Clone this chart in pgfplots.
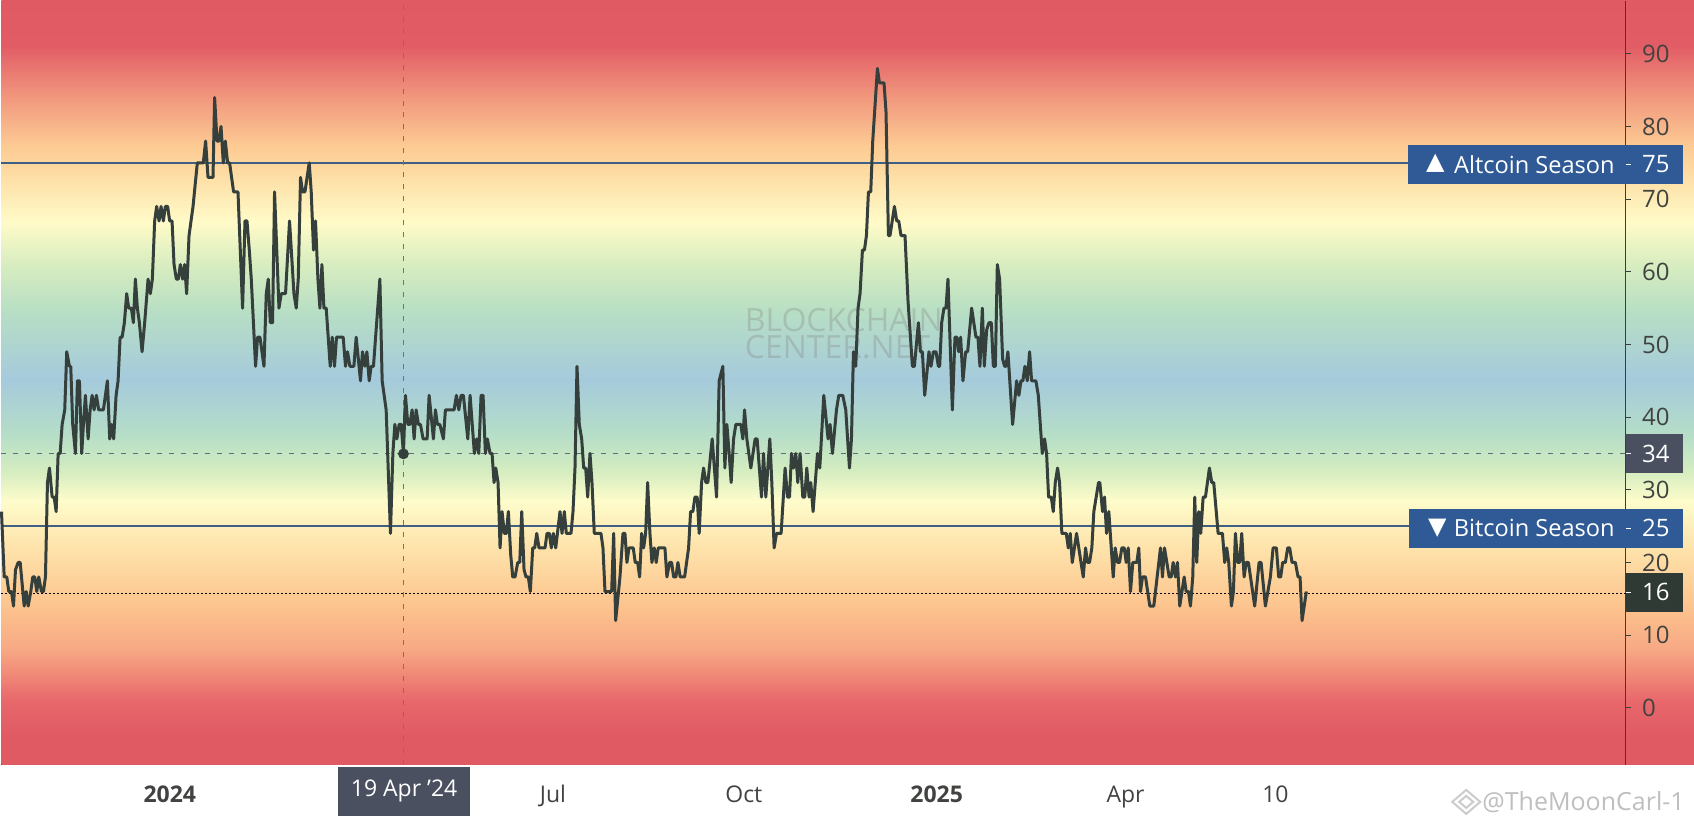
\documentclass[border=0pt]{standalone}
\usepackage{fontspec}
\usepackage{pgfplots}
\usepackage{pgfplotstable}
\pgfplotsset{compat=1.18}
\setmainfont{Open Sans}
\newfontfamily\symfont{DejaVu Sans}
\definecolor{c0}{HTML}{E05A64}
\definecolor{c1}{HTML}{E25C65}
\definecolor{c2}{HTML}{F29B7F}
\definecolor{c3}{HTML}{FDCB94}
\definecolor{c4}{HTML}{FDD79E}
\definecolor{c5}{HTML}{FFFBC8}
\definecolor{c6}{HTML}{D8EDC0}
\definecolor{c7}{HTML}{B8DFC4}
\definecolor{c8}{HTML}{A5CADC}
\definecolor{c9}{HTML}{B5DDC8}
\definecolor{c10}{HTML}{D5EDC0}
\definecolor{c11}{HTML}{FEFCCB}
\definecolor{c12}{HTML}{FEE3AB}
\definecolor{c13}{HTML}{FDC48E}
\definecolor{c14}{HTML}{F7A884}
\definecolor{c15}{HTML}{E8686B}
\definecolor{linec}{HTML}{353F3B}
\definecolor{bluel}{HTML}{3F6085}
\definecolor{boxb}{HTML}{2F5A96}
\definecolor{boxg}{HTML}{4A5060}
\definecolor{boxd}{HTML}{2F3A35}
\definecolor{txt}{HTML}{40433F}
\pgfdeclareverticalshading{rainbowbg}{100bp}{
 color(0bp)=(c0); color(25bp)=(c0); color(26.96bp)=(c0); color(29.25bp)=(c15);
 color(32.52bp)=(c14); color(35.46bp)=(c13); color(39.25bp)=(c12); color(42.26bp)=(c11);
 color(44.22bp)=(c10); color(46.70bp)=(c9); color(50.23bp)=(c8); color(54.74bp)=(c7);
 color(57.75bp)=(c6); color(60.49bp)=(c5); color(64.22bp)=(c4); color(65.46bp)=(c3);
 color(68.46bp)=(c2); color(72.06bp)=(c1); color(75bp)=(c0); color(100bp)=(c0)}
\pgfplotstableread{
x v
0 27
2.7 18
5.3 18
7.3 16
10 16
12 14
14 19
16.7 20
18.7 20
20.7 17
22.7 14
24.7 16
26.7 14
29.3 16
31.3 18
33.3 18
35.3 16
37.3 18
40 16
42 16
44 18
46 31
48 33
50.7 29
52.7 29
54.7 27
56.7 35
58.7 35
60.7 39
63.3 41
65.3 49
68 47
69.3 47
71.3 39
74 35
76 45
78 45
80.3 35
82 39
84 43
86.7 37
88.7 41
90.7 43
92.7 41
95 43
97.3 41
102 41
106 45
108.3 37
110.3 39
112.3 37
114.7 43
116.7 45
118.7 51
120.7 51
123 53
125.3 57
127.3 55
130 55
132 53
134 59
136 55
138 53
140.7 49
143.3 53
146.7 59
149 57
151 59
153.3 67
155.3 69
157.7 67
159.7 69
162 67
164 69
166.3 69
168.3 67
170.7 67
172.7 61
175 59
177 59
179 61
181.3 59
183.3 61
185.3 57
187.7 65
189.7 67
191.7 69
196 75
202 75
204.3 78
206.7 73
211.7 73
213.3 84
215.7 78
217.7 78
219.7 80
222 75
224 78
226.3 75
228.3 75
232.3 71
236.7 71
241.3 55
243.7 67
245.7 67
248 63
250 59
254.3 47
256.3 51
258.7 51
262.7 47
265 57
267 59
269 53
271.3 53
273.3 71
277.7 55
280 57
284.3 57
288.3 67
292.7 57
295 55
297 59
299.3 73
301.3 71
303.7 71
308 75
310 71
312.3 63
314.3 67
316.7 59
318.7 55
320.7 61
322.7 55
325 55
329 47
331 51
333.3 47
335.3 51
342 51
344.3 47
346.3 49
348.7 47
352.7 47
355 51
359.3 45
361.3 49
363.7 47
365.7 49
368 45
370 47
372.3 47
378.7 59
381 45
385 41
389.3 24
391.7 35
393.7 39
395.7 37
398 39
400 39
402.3 35
404.3 43
406.7 39
408.7 39
411 41
413 37
415 41
417.3 39
419.3 39
422 37
426 37
428 43
432.3 37
434.3 41
436.3 39
438.7 39
442.3 37
444.3 41
453 41
455.3 43
457.7 41
460 43
462.3 43
466.7 37
469 43
473.3 35
475.7 37
477.7 35
480 43
482 43
484.3 35
486.3 37
489 35
491 35
493 31
494.7 33
497 31
499 22
501 27
503.3 24
505.3 24
507.3 27
509.7 21
511.7 18
514 18
516.7 20
518.7 20
520.7 27
523 19
525 18
527.3 18
529.3 16
531.7 22
533.7 22
535.7 24
538 22
544 22
546 24
548.3 24
550.3 22
552.3 24
554.7 22
559 27
561 24
563.3 27
565.3 24
570 24
572 27
574 33
576 47
578.3 39
580.7 37
582.7 33
584.7 33
586.7 29
589 35
591 31
593.3 24
600 24
602 22
604 16
610.7 16
612.7 24
614.7 12
619 18
622 24
624 24
626 20
628 22
632.3 22
634.3 20
636.7 20
638.7 18
640.7 24
642.7 22
644.7 24
646.7 31
649 24
651 20
653.3 22
655.3 20
657.3 22
664 22
666 18
668.7 20
670.7 20
672.7 18
675 18
677 20
679.3 18
683.7 18
687.7 22
689.7 27
692 27
694 29
696.3 29
698.3 24
700.7 31
702.7 33
705 31
707 31
711.3 37
715.7 29
718.3 45
722 47
724 33
726 39
728.3 35
730.3 31
732.7 37
735 39
740 39
742 37
743.7 41
746 37
750 33
754.3 37
756.3 37
760.7 29
762.7 35
765 29
769 37
771 31
773.3 22
775.7 24
780.3 24
784.3 33
786.7 29
788.7 29
790.7 35
792.7 33
795 35
797 31
799.3 35
802 29
804 29
806 33
808.3 29
810 31
812.3 27
816.7 35
819 33
823 43
827.3 37
829.3 39
831.7 35
835.7 41
838 43
842 43
845 41
848.7 33
850.7 37
852.7 49
855 47
857.3 55
859.3 57
861.7 63
863.7 63
865.7 65
867.7 71
870 71
872 78
876.7 88
878.7 86
883.3 86
885.3 82
887.7 65
889.3 65
893.7 69
896 67
898 67
900.3 65
904.3 65
907.3 56
911.7 47
913.7 47
917.7 53
919.7 49
921.7 49
924 43
928.3 49
930.3 47
932.7 49
935.3 49
937.7 47
939 47
941 53
943.3 55
945.3 55
947.3 59
951.7 41
954.3 51
956.3 51
958 49
960 51
962.3 45
965 49
967 49
971 55
975.3 51
977.3 51
979.3 47
981.7 55
983.7 47
986 52
988.3 53
990.7 53
992.7 47
994.7 47
996.7 61
999 59
1002 48
1004 47
1005.3 47
1007.3 49
1012 39
1016 45
1018.3 43
1020.3 45
1022.3 45
1024.3 47
1026.7 45
1029 49
1031 45
1035.3 45
1037.7 43
1041.7 35
1044 37
1046 35
1048 29
1050.7 29
1052.7 27
1054.7 31
1057 33
1059 31
1061.3 24
1065.7 24
1067.7 22
1069.7 24
1071.7 20
1076 24
1082.7 18
1085 22
1087 20
1089 20
1091.3 22
1093.3 27
1098 31
1099.3 31
1102 27
1104 29
1106 24
1108.3 27
1112.7 18
1114.7 22
1117 20
1119 20
1121.3 22
1123.7 22
1125.7 20
1127.7 22
1130 16
1132.3 20
1136.3 20
1138.3 22
1140 16
1142 18
1145 18
1149.3 14
1153.3 14
1160 22
1162 18
1164 22
1168.7 18
1170.7 18
1172.7 20
1175 18
1177 20
1179.3 14
1183.7 18
1185.7 16
1188 16
1190 14
1192.3 18
1194.3 29
1196.3 20
1198.3 27
1200.3 24
1202.7 29
1205 29
1209 33
1211.3 31
1213.3 31
1217.7 24
1222 24
1224.3 20
1226.3 22
1228.3 20
1231 14
1233 16
1235 24
1237.3 20
1239.3 20
1241.3 24
1243.7 18
1245.7 20
1248 20
1254.3 14
1258.7 20
1260.7 20
1265 14
1270 18
1272.7 22
1276 22
1278.3 18
1280.3 18
1282.3 20
1285 20
1287.3 22
1289.3 22
1291.7 20
1295 20
1297.7 18
1299.7 18
1301.7 12
1306 16
}\altindex
\begin{document}
\begin{tikzpicture}
\begin{scope}[x=0.5pt,y=-0.5pt]
\useasboundingbox (0,0) rectangle (1694,827);
\fill[white] (0,0) rectangle (1694,827);
\fill[shading=rainbowbg] (0,0) rectangle (1694,765);
\node[text=gray,opacity=.3,font=\fontsize{16}{13.5}\selectfont,align=left,inner sep=0pt] at (843,333) {BLOCKCHAIN\\CENTER.NET};
\end{scope}
\begin{axis}[
  at={(0pt,-382.5pt)},anchor=south west,
  scale only axis,width=812.85pt,height=382.5pt,
  xmin=0,xmax=1625.7,ymin=-7.866,ymax=97.33,
  clip=false,
  axis y line=right,axis x line=bottom,
  x axis line style={draw=none,-},
  y axis line style={-,draw=linec,line width=0.6pt},
  xtick={168.5,552,743,936,1125,1275},
  xticklabels={\textbf{2024},Jul,Oct,\textbf{2025},Apr,10},
  xtick style={draw=none},
  ytick={0,10,...,90},
  ytick style={draw=linec,line width=0.5pt},
  tick align=outside,major tick length=2.5pt,
  /pgf/number format/assume math mode=true,
  yticklabel style={anchor=west,inner sep=0pt,xshift=5.5pt,font=\fontsize{12}{14}\selectfont,text=txt},
  xticklabel style={anchor=base,inner sep=0pt,yshift=-16.3pt,font=\fontsize{11.5}{14}\selectfont,text=txt},
]
\addplot[bluel,line width=0.8pt] coordinates {(0,75) (1408,75)};
\addplot[bluel,line width=0.8pt] coordinates {(0,25) (1409,25)};
\addplot[black!45!c8,line width=0.35pt,dash pattern=on 2.5pt off 3.5pt] coordinates {(0,34.95) (1625.7,34.95)};
\addplot[black!40!c8,line width=0.35pt,dash pattern=on 2.5pt off 3.5pt] coordinates {(402.3,-7.866) (402.3,97.33)};
\addplot[black,line width=0.4pt,dash pattern=on 1pt off 1pt] coordinates {(0,15.8) (1625.7,15.8)};
\addplot[linec,line width=1.5pt,line join=round] table[x=x,y=v] {\altindex};
\addplot[only marks,mark=*,mark size=2.5pt,mark options={fill=linec,draw=linec}] coordinates {(402.3,34.95)};
\end{axis}
\begin{scope}[x=0.5pt,y=-0.5pt]
\fill[boxb] (1408,145) rectangle (1682.7,183.5);
\fill[boxb] (1409,508.4) rectangle (1682.7,547.5);
\fill[boxg] (1625.7,434) rectangle (1682.7,473);
\fill[boxd] (1625.7,572.8) rectangle (1682.7,611.8);
\fill[boxg] (337,766.7) rectangle (469,816);
\foreach \yy in {164,528,453.5,592.3} {\draw[white,line width=0.5pt] (1625.7,\yy) -- (1631,\yy);}
\tikzset{lab/.style={text=white,inner sep=0pt,font=\fontsize{12}{14}\selectfont,anchor=west}}
\node[lab] at (1641.7,164) {75};
\node[lab] at (1641.7,528) {25};
\node[lab] at (1641.7,453.5) {34};
\node[lab] at (1641.7,592.3) {16};
\node[lab,anchor=center,font=\symfont\fontsize{12}{14}\selectfont] at (1435,163) {▲};
\node[lab,anchor=center,font=\symfont\fontsize{12}{14}\selectfont] at (1437,528) {▼};
\node[lab,anchor=east,font=\fontsize{11.8}{14}\selectfont] at (1615,164) {Altcoin Season};
\node[lab,anchor=east,font=\fontsize{11.8}{14}\selectfont] at (1615,528) {Bitcoin Season};
\node[text=white,inner sep=0pt,font=\fontsize{11.5}{14}\selectfont] at (403,791) {19 Apr '24};
\node[text=black!25,inner sep=0pt,font=\fontsize{12.5}{14}\selectfont,anchor=east] at (1685,802) {@TheMoonCarl-1};
\draw[black!20,line width=1pt] (1466,790) -- (1480,802) -- (1466,814) -- (1452,802) -- cycle;
\draw[black!20,line width=1pt] (1466,796) -- (1473,802) -- (1466,808) -- (1459,802) -- cycle;
\end{scope}
\end{tikzpicture}
\end{document}
